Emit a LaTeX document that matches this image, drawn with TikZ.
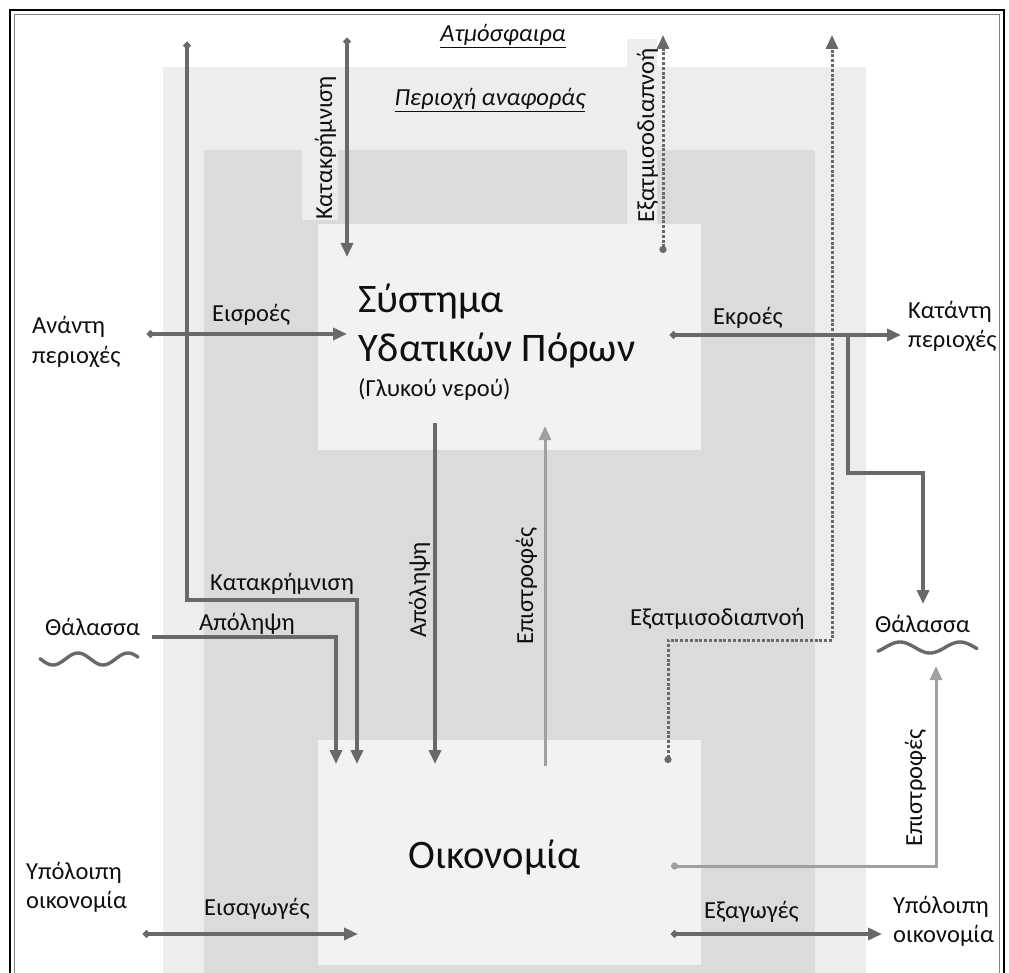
\documentclass[tikz,border=0pt]{standalone}
\usepackage{fontspec}
\setmainfont{Carlito}
\usetikzlibrary{arrows.meta}
\definecolor{lightreg}{RGB}{237,237,237}
\definecolor{darkreg}{RGB}{219,219,221}
\definecolor{boxfill}{RGB}{242,242,242}
\definecolor{linedark}{RGB}{105,105,105}
\definecolor{linelight}{RGB}{160,160,160}
\definecolor{txt}{RGB}{15,15,15}
\begin{document}
\begin{tikzpicture}[x=1pt,y=-1pt,
  flow/.style={draw=linedark, line width=3.6pt, arrows={-Triangle[length=14pt,width=12pt]}},
  dotflow/.style={draw=linedark, line width=3.6pt, arrows={Circle[length=7pt]-Triangle[length=14pt,width=12pt]}},
  retflow/.style={draw=linelight, line width=3pt, arrows={-Triangle[length=14pt,width=12pt]}},
  dotretflow/.style={draw=linelight, line width=3pt, arrows={Circle[length=7pt]-Triangle[length=14pt,width=12pt]}},
  evap/.style={draw=linedark, line width=3pt, dash pattern=on 3pt off 1.8pt, arrows={Circle[length=7pt]-Triangle[length=14pt,width=12pt]}},
  lab/.style={font=\fontsize{24.5}{29}\selectfont, text=txt, inner sep=0pt, align=left, anchor=base west},
  rlab/.style={lab, rotate=90},
  big/.style={font=\fontsize{40.5}{48}\selectfont, text=txt, inner sep=0pt, anchor=base west},
  ital/.style={font=\fontsize{24.5}{28}\selectfont\itshape, text=txt, inner sep=0pt, anchor=base},
  boxstyle/.style={fill=boxfill, draw=none, inner sep=0pt},
  wave/.style={draw=linedark, line width=3.4pt, line cap=round}
]
\useasboundingbox (0,0) rectangle (1009,973);
\clip (0,0) rectangle (1009,973);
\fill[white] (0,0) rectangle (1009,973);
% frame
\draw[black, line width=2.5pt] (10,10) rectangle (1004,1000);
\draw[gray, line width=1.2pt] (14.5,14.5) rectangle (999.5,1000);
% regions
\fill[lightreg] (163,67) rectangle (866,980);
\fill[darkreg] (204,150) rectangle (815,980);
\fill[lightreg] (302,67) rectangle (338,220);
\fill[lightreg] (627,39) rectangle (657,225);
% boxes
\node[boxstyle, minimum width=383pt, minimum height=226pt] (sys) at (509.5,337) {};
\node[boxstyle, minimum width=383pt, minimum height=225pt] (eco) at (509.5,852.5) {};
% box texts
\node[big] (t1) at (358,313) {Σύστημα};
\node[big] (t2) at (358,362) {Υδατικών Πόρων};
\node[lab] (t3) at (358,396) {(Γλυκού νερού)};
\node[big] (t4) at (408,868) {Οικονομία};
% titles
\node[ital] (atm) at (503,42) {\underline{Ατμόσφαιρα}};
\node[ital] (ref) at (490,106) {\underline{Περιοχή αναφοράς}};
% coordinates
\coordinate (pL0) at (187,42);
\coordinate (pL1) at (187,600);
\coordinate (pL2) at (357,600);
\coordinate (pL3) at (357,764);
\coordinate (aL0) at (152,637);
\coordinate (aL1) at (336,637);
\coordinate (aL2) at (336,764);
\coordinate (pT0) at (347,38);
\coordinate (pT1) at (347,257);
\coordinate (in0) at (147,334);
\coordinate (in1) at (347,334);
\coordinate (out0) at (670,335);
\coordinate (out1) at (901,335);
\coordinate (br0) at (848,335);
\coordinate (br1) at (848,473);
\coordinate (br2) at (923,473);
\coordinate (br3) at (923,604);
\coordinate (e10) at (663,253);
\coordinate (e11) at (663,35);
\coordinate (e20) at (668,763);
\coordinate (e21) at (668,640);
\coordinate (e22) at (832,640);
\coordinate (e23) at (832,35);
\coordinate (ab0) at (435,423);
\coordinate (ab1) at (435,764);
\coordinate (rt0) at (545,766);
\coordinate (rt1) at (545,426);
\coordinate (rr0) at (671,866);
\coordinate (rr1) at (936,866);
\coordinate (rr2) at (936,666);
\coordinate (im0) at (143,934);
\coordinate (im1) at (358,934);
\coordinate (ex0) at (671,934);
\coordinate (ex1) at (882,934);
% connectors
\draw[dotflow] (pL0) -- (pL1) -- (pL2) -- (pL3);
\draw[flow] (aL0) -- (aL1) -- (aL2);
\draw[dotflow] (pT0) -- (pT1);
\draw[dotflow] (in0) -- (in1);
\draw[dotflow] (out0) -- (out1);
\draw[flow] (br0) -- (br1) -- (br2) -- (br3);
\draw[evap] (e10) -- (e11);
\draw[evap] (e20) -- (e21) -- (e22) -- (e23);
\draw[flow] (ab0) -- (ab1);
\draw[retflow] (rt0) -- (rt1);
\draw[dotretflow] (rr0) -- (rr1) -- (rr2);
\draw[dotflow] (im0) -- (im1);
\draw[dotflow] (ex0) -- (ex1);
% waves
\draw[wave] plot[domain=40:138, samples=60, smooth] (\x, {659+6*sin(7.2*(\x-40.5))});
\draw[wave] plot[domain=878:977, samples=60, smooth] (\x, {647.5-5.5*sin(6*(\x-885))});
% labels
\node[lab] (lin) at (212,322) {Εισροές};
\node[lab] (lup) at (32,363) {Ανάντη\\περιοχές};
\node[lab] (lout) at (713,325) {Εκροές};
\node[lab] (ldown) at (908,348) {Κατάντη\\περιοχές};
\node[lab] (lpl) at (210,590) {Κατακρήμνιση};
\node[lab] (lal) at (199,630) {Απόληψη};
\node[lab] (lsl) at (45,635) {Θάλασσα};
\node[lab] (lev) at (630,625) {Εξατμισοδιαπνοή};
\node[lab] (lsr) at (875,632) {Θάλασσα};
\node[lab] (lrl) at (26,908) {Υπόλοιπη\\οικονομία};
\node[lab] (lim) at (204,915) {Εισαγωγές};
\node[lab] (lex) at (704,918) {Εξαγωγές};
\node[lab] (lrr) at (893,942) {Υπόλοιπη\\οικονομία};
\node[rlab] (lpt) at (332,220) {Κατακρήμνιση};
\node[rlab] (let) at (654,223) {Εξατμισοδιαπνοή};
\node[rlab] (lab2) at (426,638) {Απόληψη};
\node[rlab] (lrm) at (533,645) {Επιστροφές};
\node[rlab] (lrs) at (922,847) {Επιστροφές};
\end{tikzpicture}
\end{document}
